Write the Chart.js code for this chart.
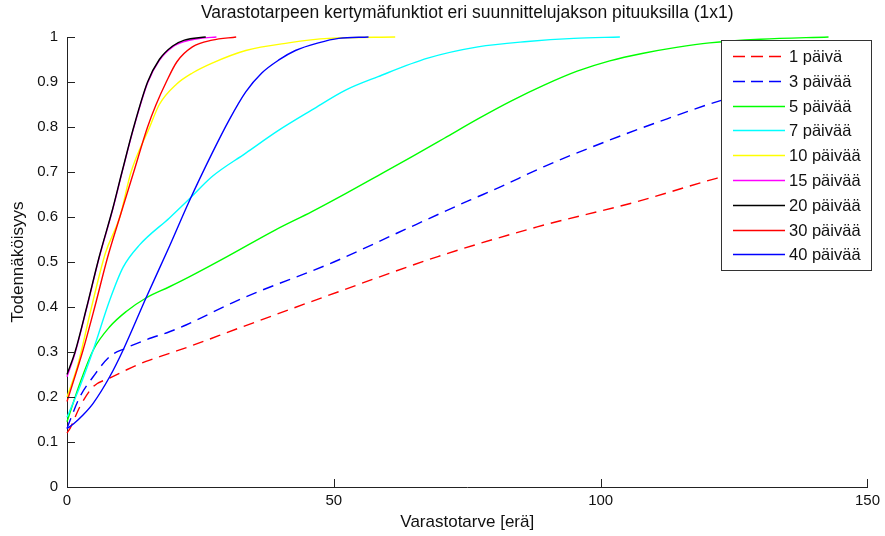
<!DOCTYPE html>
<html>
<head>
<meta charset="utf-8">
<title>Varastotarpeen kertymäfunktiot</title>
<script src="https://cdn.jsdelivr.net/npm/chart.js@4.4.0/dist/chart.umd.min.js"></script>
<style>
  html, body { margin: 0; padding: 0; background: #fff; }
  #wrap { width: 885px; height: 536px; }
</style>
</head>
<body>
<div id="wrap"><canvas id="cdfChart" width="885" height="536"></canvas></div>
<script>
// Series names (legend order)
var seriesLabels = ['1 päivä', '3 päivää', '5 päivää', '7 päivää', '10 päivää', '15 päivää', '20 päivää', '30 päivää', '40 päivää'];
var chartTitle = 'Varastotarpeen kertymäfunktiot eri suunnittelujakson pituuksilla (1x1)';

// Tick labels
var xTicks = [0, 50, 100, 150];
var yTicks = [0, 0.1, 0.2, 0.3, 0.4, 0.5, 0.6, 0.7, 0.8, 0.9, 1];

// Curves: [varastotarve, todennäköisyys]
var paiva1 = [[0, 0.12], [0.6, 0.131], [2.4, 0.178], [4.9, 0.223], [8, 0.242], [11.1, 0.26], [14.8, 0.279], [19.2, 0.297], [22.9, 0.312], [32.2, 0.353], [50.9, 0.434], [69.5, 0.512], [88.1, 0.578], [106.8, 0.634], [121.7, 0.686], [135, 0.725], [150, 0.76]];
var paiva3 = [[0, 0.13], [0.6, 0.149], [2.4, 0.2], [4.9, 0.245], [8, 0.29], [11.1, 0.309], [14.8, 0.327], [19.2, 0.345], [22.3, 0.36], [32.2, 0.416], [50, 0.5], [62, 0.565], [75.6, 0.638], [80.7, 0.664], [89.4, 0.712], [101.7, 0.771], [111, 0.812], [121.7, 0.856], [135, 0.9], [150, 0.94]];
var paiva5 = [[0, 0.145], [2.4, 0.23], [4.9, 0.304], [8, 0.356], [11.1, 0.39], [14.8, 0.42], [19.2, 0.445], [22.9, 0.467], [30, 0.512], [39, 0.571], [45.9, 0.612], [52.2, 0.652], [58.3, 0.692], [64.5, 0.733], [70.7, 0.775], [77, 0.818], [83.1, 0.857], [89.4, 0.893], [95.6, 0.924], [101.7, 0.947], [108, 0.964], [114.2, 0.977], [120.4, 0.987], [130, 0.995], [142.7, 1]];
var paiva7 = [[0, 0.155], [2.4, 0.223], [4.9, 0.304], [8, 0.415], [10.5, 0.488], [13.6, 0.538], [19.2, 0.598], [22.9, 0.64], [27.2, 0.69], [33.5, 0.742], [39.7, 0.793], [45.9, 0.838], [52.2, 0.882], [58.3, 0.912], [67.6, 0.953], [77, 0.978], [86.3, 0.99], [95, 0.997], [103.6, 1]];
var paiva10 = [[0, 0.2], [2, 0.27], [4.6, 0.4], [7.2, 0.52], [9.9, 0.6], [12, 0.7], [15.5, 0.8], [17.3, 0.85], [20.5, 0.895], [23.5, 0.92], [27.2, 0.942], [33.5, 0.97], [41.5, 0.987], [49, 0.997], [61.5, 1]];
var paiva15 = [[0, 0.245], [1.5, 0.297], [3.7, 0.398], [6, 0.508], [8.6, 0.618], [10.3, 0.698], [12.5, 0.798], [15.1, 0.898], [17.3, 0.948], [19.8, 0.978], [22, 0.99], [25, 0.997], [28, 1]];
var paiva20 = [[0, 0.25], [1.5, 0.3], [3.7, 0.4], [6, 0.51], [8.6, 0.62], [10.3, 0.7], [12.5, 0.8], [15.1, 0.9], [17.3, 0.95], [19.8, 0.98], [22, 0.993], [26, 1]];
var paiva30 = [[0, 0.19], [3, 0.304], [5.2, 0.4], [7.6, 0.51], [9.9, 0.6], [12.5, 0.7], [15.1, 0.8], [16.7, 0.85], [18.6, 0.9], [20.6, 0.945], [23.5, 0.978], [27.2, 0.993], [31.7, 1]];
var paiva40 = [[0, 0.13], [1.2, 0.14], [3, 0.16], [4.9, 0.186], [8, 0.245], [10.5, 0.304], [14.8, 0.42], [19.2, 0.535], [22.9, 0.635], [27.2, 0.742], [30.4, 0.816], [33.5, 0.878], [36.5, 0.92], [39.7, 0.949], [42.8, 0.97], [47.1, 0.987], [50.9, 0.997], [56.5, 1]];

var seriesData = [paiva1, paiva3, paiva5, paiva7, paiva10, paiva15, paiva20, paiva30, paiva40];
var seriesColors = ['#ff0000', '#0000ff', '#00ff00', '#00ffff', '#ffff00', '#ff00ff', '#000000', '#ff0000', '#0000ff'];
var seriesDashed = [true, true, false, false, false, false, false, false, false];

var FONT = "'Liberation Sans', Arial, sans-serif";
var AXIS_COLOR = '#222222';

var datasets = seriesData.map(function(points, i) {
  return {
    label: seriesLabels[i],
    data: points.map(function(p) { return { x: p[0], y: p[1] }; }),
    borderColor: seriesColors[i],
    borderWidth: 1.4,
    borderDash: seriesDashed[i] ? [11, 7] : [],
    pointRadius: 0,
    fill: false,
    cubicInterpolationMode: 'monotone',
    clip: 4,
    // later series on top, like in matlab
    order: seriesData.length - i
  };
});

// Title centred over the plot area (not the whole canvas)
var plotTitle = {
  id: 'plotTitle',
  afterDraw: function(chart) {
    var ctx = chart.ctx;
    var area = chart.chartArea;
    ctx.save();
    ctx.font = '17.5px ' + FONT;
    ctx.fillStyle = '#111111';
    ctx.textAlign = 'center';
    ctx.textBaseline = 'middle';
    ctx.fillText(chartTitle, (area.left + area.right) / 2, 13);
    ctx.restore();
  }
};

// Inward tick marks on the left and bottom axes
var inwardTicks = {
  id: 'inwardTicks',
  afterDraw: function(chart) {
    var ctx = chart.ctx;
    var area = chart.chartArea;
    var xs = chart.scales.x, ys = chart.scales.y;
    ctx.save();
    ctx.strokeStyle = AXIS_COLOR;
    ctx.lineWidth = 1;
    ctx.beginPath();
    xTicks.forEach(function(v) {
      var px = Math.round(xs.getPixelForValue(v)) + 0.5;
      ctx.moveTo(px, area.bottom);
      ctx.lineTo(px, area.bottom - 8);
    });
    yTicks.forEach(function(v) {
      var py = Math.round(ys.getPixelForValue(v)) + 0.5;
      ctx.moveTo(area.left, py);
      ctx.lineTo(area.left + 8, py);
    });
    ctx.stroke();
    ctx.restore();
  }
};

// Matlab style legend box in the top right corner
var boxLegend = {
  id: 'boxLegend',
  afterDatasetsDraw: function(chart) {
    var ctx = chart.ctx;
    var left = 721.5, top = 40.5, w = 150, h = 230;
    ctx.save();
    ctx.fillStyle = '#ffffff';
    ctx.fillRect(left, top, w, h);
    ctx.strokeStyle = '#333333';
    ctx.lineWidth = 1;
    ctx.strokeRect(left, top, w, h);
    ctx.font = '16.5px ' + FONT;
    ctx.textBaseline = 'middle';
    ctx.textAlign = 'left';
    chart.data.datasets.forEach(function(ds, i) {
      var y = Math.round(56 + i * 24.8) + 0.5;
      ctx.strokeStyle = ds.borderColor;
      ctx.lineWidth = 1.4;
      ctx.setLineDash(ds.borderDash.length ? [12, 6] : []);
      ctx.beginPath();
      ctx.moveTo(733, y);
      ctx.lineTo(785, y);
      ctx.stroke();
      ctx.setLineDash([]);
      ctx.fillStyle = '#111111';
      ctx.fillText(ds.label, 789, y + 1);
    });
    ctx.restore();
  }
};

var ctx = document.getElementById('cdfChart').getContext('2d');
var cdfChart = new Chart(ctx, {
  type: 'line',
  data: { datasets: datasets },
  options: {
    responsive: false,
    animation: false,
    layout: { padding: { left: 0, right: 13, top: 37, bottom: 0 } },
    plugins: {
      legend: { display: false },
      tooltip: { enabled: false },
      title: { display: false }
    },
    scales: {
      x: {
        type: 'linear',
        min: 0,
        max: 150,
        afterBuildTicks: function(scale) {
          scale.ticks = xTicks.map(function(v) { return { value: v }; });
        },
        afterFit: function(scale) { scale.height = 49; },
        grid: { display: false, drawTicks: false },
        border: { display: true, color: AXIS_COLOR, width: 1 },
        ticks: {
          color: '#111111',
          font: { family: FONT, size: 15 },
          padding: 5,
          maxRotation: 0
        },
        title: {
          display: true,
          text: 'Varastotarve [erä]',
          color: '#111111',
          font: { family: FONT, size: 17 },
          padding: { top: 0, bottom: 3 }
        }
      },
      y: {
        type: 'linear',
        min: 0,
        max: 1,
        afterBuildTicks: function(scale) {
          scale.ticks = yTicks.map(function(v) { return { value: v }; });
        },
        afterFit: function(scale) { scale.width = 67; },
        grid: { display: false, drawTicks: false },
        border: { display: true, color: AXIS_COLOR, width: 1 },
        ticks: {
          color: '#111111',
          font: { family: FONT, size: 15 },
          padding: 9,
          callback: function(v) { return String(Math.round(v * 10) / 10); }
        },
        title: {
          display: true,
          text: 'Todennäköisyys',
          color: '#111111',
          font: { family: FONT, size: 17 },
          padding: { top: 8, bottom: 0 }
        }
      }
    }
  },
  plugins: [plotTitle, inwardTicks, boxLegend]
});
</script>
</body>
</html>
